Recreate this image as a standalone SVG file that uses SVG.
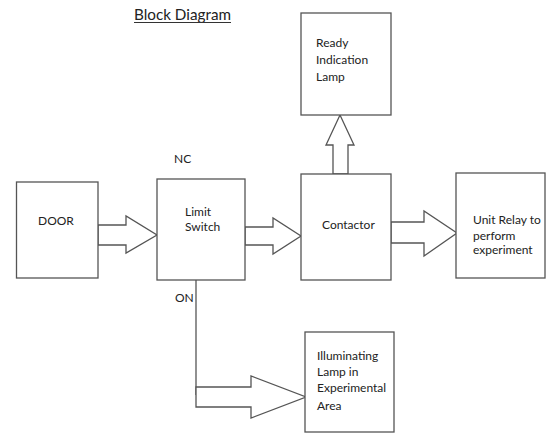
<svg xmlns="http://www.w3.org/2000/svg" width="547" height="434" viewBox="0 0 547 434">
<style>
.box{fill:#fff;stroke:#555;stroke-width:1.3}
.arr{fill:#fff;stroke:#555;stroke-width:1.3;stroke-linejoin:miter}
.ln{fill:none;stroke:#555;stroke-width:1.3}
text{font-family:Lato,"Liberation Sans",sans-serif;font-size:12px;fill:#222}
</style>
<rect width="547" height="434" fill="#fff"/>
<g id="title">
<text x="134" y="20" style="font-size:15px" textLength="97" lengthAdjust="spacingAndGlyphs">Block Diagram</text>
<line x1="134" y1="22.5" x2="231" y2="22.5" stroke="#333" stroke-width="1"/>
</g>
<g id="connectors">
<polygon class="arr" points="98,225 126,225 126,216 157,235 126,253 126,245 98,245"/>
<polygon class="arr" points="245,227 273,227 273,218 301,236 273,254 273,245 245,245"/>
<polygon class="arr" points="391,222 424,222 424,211 457,233 424,256 424,243 391,243"/>
<polygon class="arr" points="333,174 333,145 326,145 340,115 354,145 348,145 348,174"/>
<polyline class="ln" points="196,280 196,395"/>
<polygon class="arr" points="196,387 251,387 251,376 306,397 251,418 251,407 196,407"/>
</g>
<g id="door">
<rect class="box" x="16.5" y="182" width="81.5" height="96"/>
<text x="38" y="225">DOOR</text>
</g>
<g id="limit-switch">
<rect class="box" x="157" y="179" width="88" height="101"/>
<text x="185" y="216">Limit</text>
<text x="185" y="231">Switch</text>
<text x="174" y="163">NC</text>
<text x="175" y="302">ON</text>
</g>
<g id="contactor">
<rect class="box" x="301" y="174" width="90" height="106"/>
<text x="322" y="229">Contactor</text>
</g>
<g id="ready-lamp">
<rect class="box" x="301" y="13" width="90" height="102"/>
<text x="316" y="47">Ready</text>
<text x="316" y="64">Indication</text>
<text x="316" y="81">Lamp</text>
</g>
<g id="unit-relay">
<rect class="box" x="456" y="173" width="89" height="105"/>
<text x="473" y="224">Unit Relay to</text>
<text x="473" y="240">perform</text>
<text x="473" y="254">experiment</text>
</g>
<g id="illuminating-lamp">
<rect class="box" x="305" y="332" width="89" height="100"/>
<text x="317" y="360">Illuminating</text>
<text x="317" y="376">Lamp in</text>
<text x="317" y="392">Experimental</text>
<text x="317" y="410">Area</text>
</g>
</svg>
